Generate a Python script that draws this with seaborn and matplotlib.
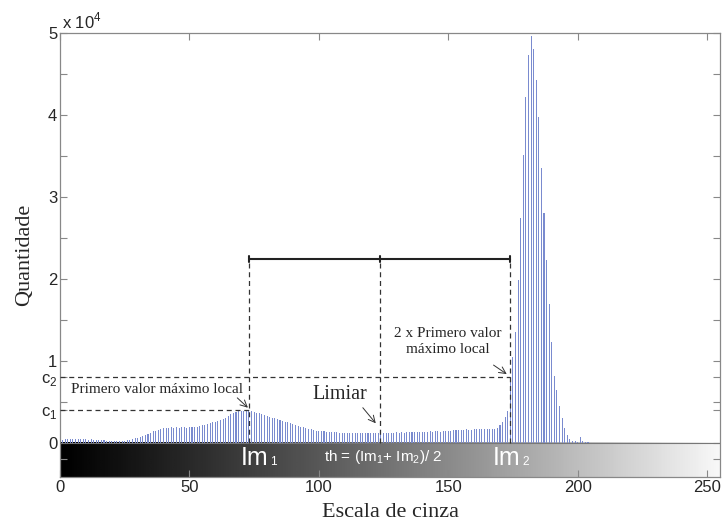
import numpy as np
import pandas as pd
import seaborn as sns
import matplotlib.pyplot as plt

sns.set_theme(style="ticks")
plt.rcParams['font.family'] = ['Liberation Sans', 'DejaVu Sans']

# histogram of gray levels 0..255, counts in units of 10^4
niveis = np.arange(256)
quantidade_0_100 = [
    0.07, 0.04, 0.05, 0.05, 0.05, 0.05, 0.05, 0.045, 0.05, 0.045, 0.045,
    0.04, 0.045, 0.04, 0.04, 0.035, 0.04, 0.035, 0.03, 0.03, 0.03,
    0.025, 0.03, 0.025, 0.03, 0.03, 0.035, 0.04, 0.045, 0.055, 0.065,
    0.075, 0.085, 0.1, 0.115, 0.125, 0.14, 0.15, 0.16, 0.17, 0.18,
    0.185, 0.18, 0.19, 0.185, 0.19, 0.185, 0.19, 0.19, 0.185, 0.19,
    0.195, 0.2, 0.2, 0.21, 0.215, 0.22, 0.23, 0.24, 0.25, 0.26,
    0.27, 0.28, 0.29, 0.31, 0.33, 0.35, 0.37, 0.38, 0.39, 0.39,
    0.39, 0.395, 0.40, 0.39, 0.38, 0.37, 0.36, 0.35, 0.34, 0.33,
    0.32, 0.31, 0.3, 0.29, 0.28, 0.27, 0.26, 0.25, 0.24, 0.23,
    0.22, 0.21, 0.2, 0.19, 0.18, 0.17, 0.165, 0.155, 0.15, 0.145,
]
quantidade_101_210 = [
    0.14, 0.14, 0.135, 0.135, 0.13, 0.13, 0.13, 0.125, 0.125, 0.125,
    0.125, 0.12, 0.125, 0.12, 0.125, 0.12, 0.12, 0.125, 0.12, 0.12,
    0.12, 0.125, 0.12, 0.12, 0.125, 0.125, 0.12, 0.125, 0.125, 0.13,
    0.125, 0.13, 0.125, 0.13, 0.13, 0.13, 0.135, 0.13, 0.135, 0.13,
    0.135, 0.135, 0.14, 0.135, 0.14, 0.14, 0.135, 0.14, 0.14, 0.145,
    0.15, 0.16, 0.16, 0.155, 0.16, 0.16, 0.165, 0.16, 0.16, 0.165,
    0.17, 0.17, 0.175, 0.17, 0.175, 0.17, 0.165, 0.175, 0.18, 0.22,
    0.26, 0.32, 0.39, 0.8, 1.05, 1.35, 1.99, 2.74, 3.51, 4.22,
    4.73, 4.96, 4.81, 4.43, 3.98, 3.35, 2.8, 2.23, 1.7, 1.23,
    0.82, 0.64, 0.45, 0.3, 0.18, 0.1, 0.05, 0.03, 0.02, 0.015,
    0.07, 0.02, 0.01, 0.01, 0.005, 0, 0, 0, 0, 0,
]
quantidade = quantidade_0_100 + quantidade_101_210 + [0] * 45

lm1, lm2 = 73, 174
limiar = (lm1 + lm2) / 2
c1, c2 = 0.4, 0.8
y_chave = 2.24

df = pd.DataFrame({'nivel': niveis, 'qtd': quantidade})

fig = plt.figure(figsize=(7.23, 5.22), dpi=100)
ax = fig.add_axes([60 / 723, 45 / 522, 660 / 723, 444 / 522])

# gray scale strip under the histogram
grad = np.linspace(0, 1, 256) ** 1.1
ax.imshow(grad[np.newaxis, :], cmap='gray', vmin=0, vmax=1.03, aspect='auto',
          extent=(0, 255, -0.415, 0), zorder=0)

sns.histplot(data=df, x='nivel', weights='qtd', discrete=True, shrink=0.42,
             color='#7a8bcf', alpha=1, linewidth=0, ax=ax, zorder=2)
ax.axhline(0, color='#777777', lw=0.8, zorder=3)

# dashed guides
dash = dict(color='#333333', lw=0.9, ls=(0, (4, 3)), zorder=4)
ax.plot([0, lm2], [c2, c2], **dash)
ax.plot([0, lm1], [c1, c1], **dash)
for xv in (lm1, limiar, lm2):
    ax.plot([xv, xv], [0, y_chave], **dash)

# bracket
ax.plot([lm1, lm2], [y_chave, y_chave], color='#222222', lw=1.5, zorder=5)
for xv in (lm1, limiar, lm2):
    ax.plot([xv, xv], [y_chave - 0.035, y_chave + 0.035], color='#222222', lw=1.5, zorder=5)

serif = ['Liberation Serif', 'DejaVu Serif']
seta = dict(arrowstyle='->', color='#333333', lw=0.7, shrinkA=0, shrinkB=0)
ax.text(37.5, 0.65, 'Primero valor máximo local', fontsize=11, family=serif,
        ha='center', va='center', zorder=6)
ax.annotate('', xy=(72.6, 0.43), xytext=(68.5, 0.55), arrowprops=seta, zorder=6)
ax.text(108, 0.59, 'Limiar', fontsize=14.5, family=serif, ha='center', va='center', zorder=6)
ax.annotate('', xy=(122, 0.24), xytext=(117, 0.43), arrowprops=seta, zorder=6)
ax.text(150, 1.24, '2 x Primero valor\nmáximo local', fontsize=11, family=serif,
        ha='center', va='center', linespacing=1.25, zorder=6)
ax.annotate('', xy=(172.6, 0.84), xytext=(167.5, 0.95), arrowprops=seta, zorder=6)

# labels on the gray strip
for xr, sub in ((80.6, '1'), (177.8, '2')):
    ax.text(xr, -0.268, 'Im', color='white', fontsize=18, ha='right', va='baseline', zorder=6)
    ax.text(xr + 0.7, -0.27, sub, color='white', fontsize=8.5, ha='left', va='baseline', zorder=6)
ax.text(125, -0.17, r'th = (Im$_\mathregular{1}$+ Im$_\mathregular{2}$)/ 2', color='white',
        fontsize=11, ha='center', va='center', zorder=6)

ax.set_xlim(0, 255)
ax.set_ylim(-0.415, 5)
ax.set_xticks([0, 50, 100, 150, 200, 250])
yt = [-0.2, 0, c1, 0.5, c2, 1, 1.5, 2, 2.5, 3, 3.5, 4, 4.5, 5]
yl = ['', '0', r'c$_\mathregular{1}$', '', r'c$_\mathregular{2}$', '1', '', '2', '', '3', '', '4', '', '5']
ax.set_yticks(yt)
ax.set_yticklabels(yl)
for lab in ax.get_yticklabels():
    if lab.get_text().startswith('c'):
        lab.set_fontsize(15)
ax.tick_params(direction='in', length=5, width=0.8, color='#888888', labelsize=12,
               top=True, right=True, pad=2)
for s in ax.spines.values():
    s.set_color('#888888')
    s.set_linewidth(0.9)

ax.set_xlabel('Escala de cinza', family=serif, fontsize=16, labelpad=6)
ax.set_ylabel('Quantidade', family=serif, fontsize=16, labelpad=5)
ax.text(0.003, 1.004, r'x 10$^\mathregular{4}$', transform=ax.transAxes, fontsize=12,
        ha='left', va='bottom')

fig.savefig('out.png', dpi=100)
